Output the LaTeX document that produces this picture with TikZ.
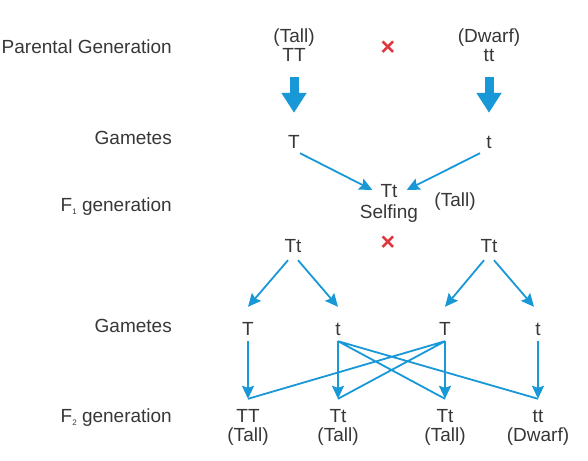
\documentclass[tikz,border=0pt]{standalone}
\usepackage{fontspec}
\setmainfont{Liberation Sans}
\usetikzlibrary{positioning,arrows.meta}
\definecolor{arrowblue}{RGB}{24,152,214}
\definecolor{crossred}{RGB}{224,54,62}
\definecolor{textgrey}{RGB}{55,55,55}
\newcommand{\lowsub}[1]{\raisebox{-3pt}{\fontsize{8}{8}\selectfont #1}}
\tikzset{rowlabel/.style={anchor=base east, text=textgrey, inner sep=1pt},
  gene/.style={anchor=base, text=textgrey, inner sep=1pt, text height=14pt, text depth=0pt},
  crossmark/.style={text=crossred, font=\fontsize{25}{25}\selectfont\bfseries},
  bigarrow/.style={draw=arrowblue, line width=9pt, -{Triangle[width=24pt,length=20pt]}},
  link/.style={draw=arrowblue, line width=1.8pt, -{Stealth[length=13pt,width=12pt,inset=2pt]}},
  mix/.style={draw=arrowblue, line width=1.8pt}}

\begin{document}
\begin{tikzpicture}[x=1pt, y=-1pt, font=\fontsize{19}{22}\selectfont]
\useasboundingbox (0,0) rectangle (588,460);

% row labels
\node[rowlabel] (lpar) at (173,53) {Parental Generation};
\node[rowlabel] (lgam) at (173,144) {Gametes};
\node[rowlabel] (lfone) at (173,211) {F\lowsub{1} generation};
\node[rowlabel] (lgamtwo) at (173,332) {Gametes};
\node[rowlabel] (lftwo) at (173,422) {F\lowsub{2} generation};

% parents
\node[gene] (ptall) at (294,42) {(Tall)};
\node[gene] (pTT) at (294,62) {TT};
\node[gene] (pdwarf) at (489,42) {(Dwarf)};
\node[gene] (ptt) at (489,62) {tt};
\node[crossmark] (xone) at (388,48) {×};

% gametes
\node[gene] (gT) at (294,148) {T};
\node[gene] (gt) at (489,148) {t};

% F1
\node[gene] (fone) at (389,197) {Tt};
\node[gene] (self) at (389,218) {Selfing};
\node[gene] (fonetall) at (455,206) {(Tall)};
\node[gene] (sa) at (293,252) {Tt};
\node[gene] (sb) at (489,252) {Tt};
\node[crossmark] (xtwo) at (388,243) {×};

% gametes of F1
\node[gene] (ga) at (248,335) {T};
\node[gene] (gb) at (338,335) {t};
\node[gene] (gc) at (445,335) {T};
\node[gene] (gd) at (538,335) {t};

% F2
\node[gene] (fa) at (248,422) {TT};
\node[gene] (fb) at (338,422) {Tt};
\node[gene] (fc) at (445,422) {Tt};
\node[gene] (fd) at (538,422) {tt};
\node[gene] (fat) at (248,441) {(Tall)};
\node[gene] (fbt) at (338,441) {(Tall)};
\node[gene] (fct) at (445,441) {(Tall)};
\node[gene] (fdt) at (538,441) {(Dwarf)};

\path[bigarrow, shorten <=14pt, shorten >=20pt] (pTT) -- (gT);
\path[bigarrow, shorten <=14pt, shorten >=20pt] (ptt) -- (gt);

\path[link]
  ([shift={(6pt,-4pt)}]gT.south) -- ([xshift=-7pt]fone.west);
\path[link]
  ([shift={(-9pt,-4pt)}]gt.south) -- ([xshift=8pt]fone.east);

\path[link]
  ([shift={(-5pt,-7pt)}]sa.south) -- ([yshift=13pt]ga.north);
\path[link]
  ([shift={(5pt,-7pt)}]sa.south) -- ([yshift=13pt]gb.north);
\path[link]
  ([shift={(-5pt,-7pt)}]sb.south) -- ([yshift=13pt]gc.north);
\path[link]
  ([shift={(5pt,-7pt)}]sb.south) -- ([shift={(-4pt,13pt)}]gd.north);

\path[mix]
  ([yshift=-5pt]gb.south) -- ([yshift=8pt]fc.north)
  ([yshift=-5pt]gb.south) -- ([yshift=8pt]fd.north)
  ([yshift=-5pt]gc.south) -- ([yshift=8pt]fa.north)
  ([yshift=-5pt]gc.south) -- ([yshift=8pt]fb.north);

\path[link] ([yshift=-5pt]ga.south) -- ([yshift=8pt]fa.north);
\path[link] ([yshift=-5pt]gb.south) -- ([yshift=8pt]fb.north);
\path[link] ([yshift=-5pt]gc.south) -- ([yshift=8pt]fc.north);
\path[link] ([yshift=-5pt]gd.south) -- ([yshift=8pt]fd.north);
\end{tikzpicture}
\end{document}
